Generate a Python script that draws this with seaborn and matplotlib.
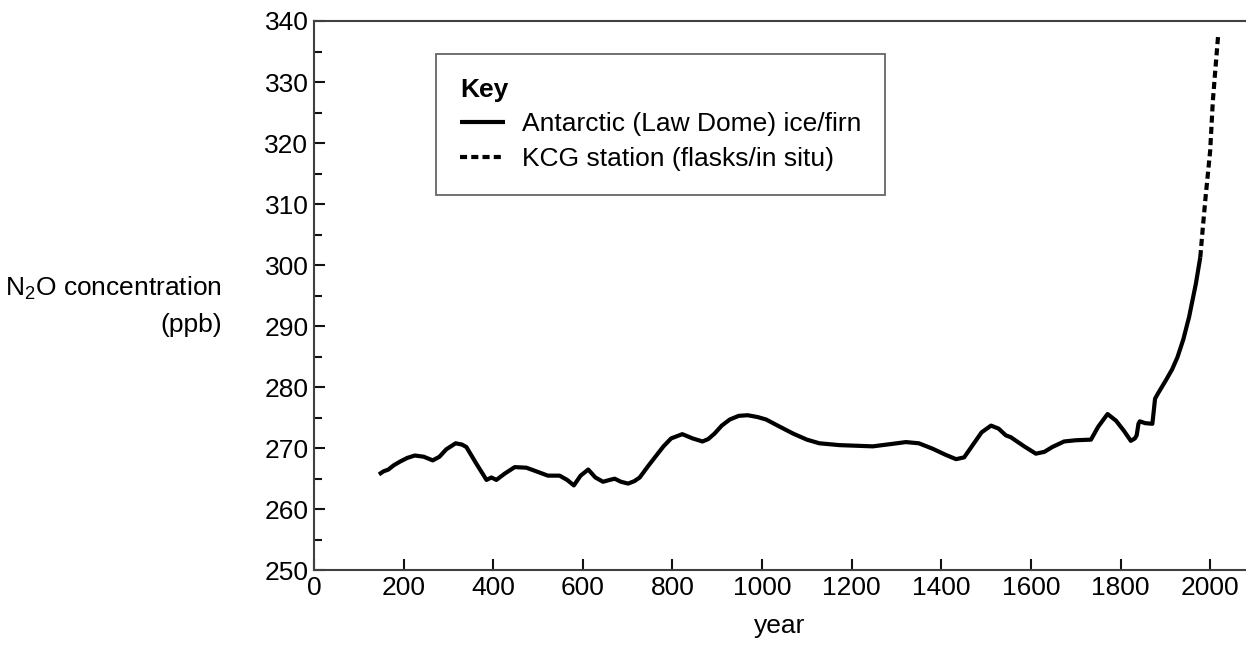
import numpy as np
import pandas as pd
import matplotlib as mpl
import matplotlib.pyplot as plt
import seaborn as sns

# Law Dome ice/firn record
ice_years = [145, 155, 166, 178, 192, 208, 225, 245, 265, 280, 295, 316, 330, 340, 362,
             385, 396, 407, 425, 448, 474, 500, 522, 548, 565, 580, 595, 612, 628, 645,
             660, 671, 685, 701, 715, 727, 745, 764, 780, 797, 822, 845, 867, 880, 894,
             910, 928, 948, 968, 990, 1009, 1040, 1069, 1100, 1128, 1173, 1247, 1290,
             1321, 1350, 1381, 1410, 1433, 1451, 1470, 1490, 1511, 1528, 1544, 1555,
             1585, 1611, 1630, 1648, 1674, 1700, 1734, 1750, 1771, 1790, 1808, 1823,
             1832, 1836, 1840, 1843, 1855, 1871, 1874, 1877, 1883, 1901, 1915, 1927,
             1940, 1953, 1968, 1978]
ice_ppb = [265.7, 266.2, 266.5, 267.2, 267.8, 268.4, 268.8, 268.6, 268.0, 268.6, 269.8,
           270.8, 270.6, 270.2, 267.5, 264.8, 265.2, 264.8, 265.8, 266.9, 266.8, 266.1,
           265.5, 265.5, 264.8, 263.9, 265.5, 266.5, 265.2, 264.5, 264.8, 265.0, 264.5,
           264.2, 264.6, 265.2, 267.0, 268.8, 270.3, 271.6, 272.3, 271.6, 271.1, 271.5,
           272.4, 273.7, 274.7, 275.3, 275.4, 275.1, 274.7, 273.5, 272.4, 271.4, 270.8,
           270.5, 270.3, 270.7, 271.0, 270.8, 269.9, 268.9, 268.2, 268.5, 270.5, 272.6,
           273.7, 273.2, 272.1, 271.8, 270.3, 269.1, 269.4, 270.2, 271.1, 271.3, 271.4,
           273.5, 275.6, 274.5, 272.8, 271.2, 271.6, 272.1, 274.0, 274.4, 274.1, 274.0,
           276.0, 278.1, 278.9, 281.1, 282.9, 284.9, 287.8, 291.5, 296.9, 301.3]

# KCG station flasks / in situ
kcg_years = [1978, 1983, 1990, 2000, 2006, 2012, 2018]
kcg_ppb = [301.3, 305.6, 311.3, 318.7, 326.9, 332.4, 337.8]

ice_label = 'Antarctic (Law Dome) ice/firn'
kcg_label = 'KCG station (flasks/in situ)'

df = pd.concat([
    pd.DataFrame({'year': ice_years, 'ppb': ice_ppb, 'source': ice_label}),
    pd.DataFrame({'year': kcg_years, 'ppb': kcg_ppb, 'source': kcg_label}),
])

sns.set_theme(style='ticks')
plt.rcParams['font.family'] = ['Liberation Sans', 'DejaVu Sans']
plt.rcParams['mathtext.default'] = 'regular'
plt.rcParams['text.color'] = 'black'
plt.rcParams['axes.labelcolor'] = 'black'
plt.rcParams['xtick.color'] = 'black'
plt.rcParams['ytick.color'] = 'black'

fs = 19
fig = plt.figure(figsize=(12.46, 6.48), dpi=100)
ax = fig.add_axes([0.252, 0.120, 0.748, 0.8476])

sns.lineplot(data=df[df.source == ice_label], x='year', y='ppb', color='black',
             linewidth=3, label=ice_label, ax=ax, solid_joinstyle='round',
             solid_capstyle='butt')
sns.lineplot(data=df[df.source == kcg_label], x='year', y='ppb', color='black',
             linewidth=3, linestyle=(0, (1.7, 1.0)), label=kcg_label, ax=ax)

ax.set_xlim(0, 2080)
ax.set_ylim(250, 340)
ax.set_xticks(np.arange(0, 2001, 200))
ax.set_yticks(np.arange(250, 341, 10))
ax.set_yticks(np.arange(255, 340, 10), minor=True)
ax.tick_params(axis='both', which='major', direction='in', length=8, width=1.5,
               labelsize=fs, color='#111111', pad=4)
ax.tick_params(axis='y', which='minor', direction='in', length=5.5, width=1.5,
               color='#111111')

for side in ['left', 'bottom', 'top']:
    ax.spines[side].set_linewidth(1.5)
    ax.spines[side].set_color('#404040')
ax.spines['right'].set_visible(False)

ax.set_xlabel('year', fontsize=fs, labelpad=10)
ax.set_ylabel('')
fig.text(0.178, 0.528, 'N$_2$O concentration\n(ppb)', fontsize=fs, ha='right',
         va='center', multialignment='right', linespacing=1.6)

leg = ax.legend(title='Key', loc='upper left', bbox_to_anchor=(0.131, 0.940),
                borderaxespad=0, fontsize=fs, frameon=True, fancybox=False,
                handlelength=1.7, handletextpad=0.65, labelspacing=0.4,
                borderpad=0.9, alignment='left',
                title_fontproperties={'weight': 'bold', 'size': fs})
leg.get_frame().set_edgecolor('#404040')
leg.get_frame().set_linewidth(1.3)

fig.savefig('out.png', dpi=100)
